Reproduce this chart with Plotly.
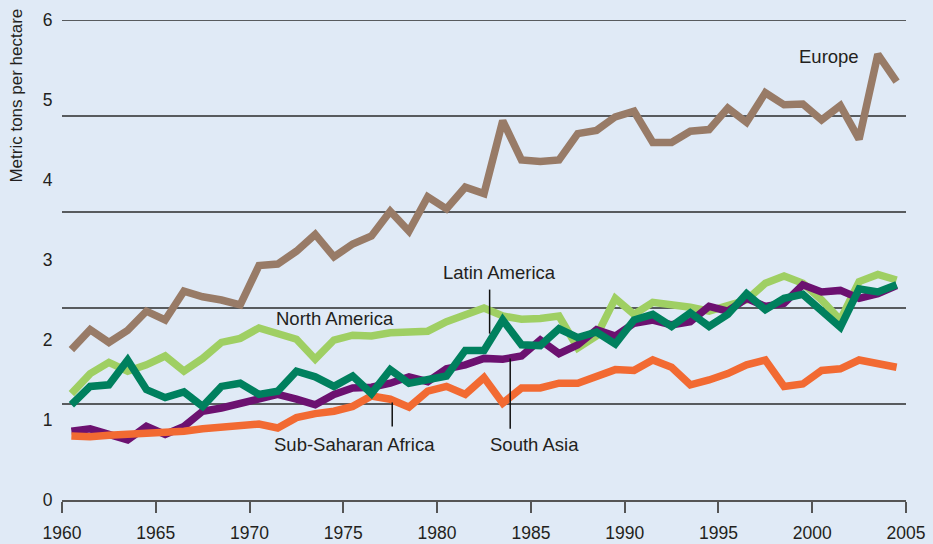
import plotly.graph_objects as go

years = [str(y) for y in range(1960, 2005)]

europe = [1.88, 2.13, 1.97, 2.12, 2.36, 2.25, 2.61, 2.54, 2.50, 2.44,
          2.93, 2.95, 3.11, 3.32, 3.04, 3.20, 3.30, 3.61, 3.36, 3.79,
          3.64, 3.91, 3.83, 4.74, 4.25, 4.23, 4.25, 4.58, 4.62, 4.79,
          4.86, 4.47, 4.47, 4.61, 4.63, 4.90, 4.72, 5.09, 4.94, 4.95,
          4.75, 4.93, 4.51, 5.57, 5.23]

north_america = [1.33, 1.58, 1.72, 1.61, 1.69, 1.80, 1.61, 1.77, 1.97, 2.02,
                 2.15, 2.07, 2.01, 1.76, 2.00, 2.06, 2.05, 2.09, 2.11, 2.11,
                 2.23, 2.32, 2.40, 2.30, 2.26, 2.27, 2.30, 1.90, 2.05, 2.52,
                 2.32, 2.47, 2.45, 2.41, 2.36, 2.44, 2.50, 2.71, 2.80, 2.71,
                 2.50, 2.25, 2.73, 2.82, 2.75]

latin_america = [1.19, 1.42, 1.44, 1.75, 1.38, 1.28, 1.35, 1.17, 1.42, 1.46,
                 1.32, 1.36, 1.61, 1.54, 1.42, 1.55, 1.33, 1.63, 1.46, 1.50,
                 1.55, 1.87, 1.87, 2.25, 1.94, 1.93, 2.14, 2.03, 2.10, 1.95,
                 2.25, 2.32, 2.17, 2.34, 2.17, 2.32, 2.58, 2.38, 2.52, 2.57,
                 2.38, 2.16, 2.64, 2.60, 2.69]

south_asia = [0.86, 0.89, 0.82, 0.75, 0.92, 0.82, 0.92, 1.11, 1.15, 1.20,
              1.25, 1.32, 1.26, 1.19, 1.32, 1.40, 1.41, 1.46, 1.54, 1.48,
              1.64, 1.69, 1.77, 1.76, 1.80, 2.00, 1.83, 1.94, 2.13, 2.05,
              2.21, 2.25, 2.19, 2.23, 2.42, 2.36, 2.52, 2.42, 2.46, 2.69,
              2.60, 2.62, 2.52, 2.58, 2.68]

ssa = [0.80, 0.79, 0.81, 0.82, 0.84, 0.85, 0.86, 0.89, 0.91, 0.91,
       0.95, 0.90, 1.03, 1.08, 1.11, 1.17, 1.30, 1.26, 1.16, 1.36,
       1.42, 1.32, 1.53, 1.21, 1.40, 1.40, 1.46, 1.46, 1.54, 1.63,
       1.62, 1.75, 1.66, 1.44, 1.50, 1.58, 1.69, 1.75, 1.42, 1.45,
       1.62, 1.64, 1.75, 1.70, 1.66]

y_ticks = [0, 1, 2, 3, 4, 5, 6]
grid_levels = [1.2, 2.4, 3.6, 4.8, 6.0]
x_ticks = [str(y) for y in range(1960, 2006, 5)]

BG = "#e0eaf6"
FONT = "Liberation Sans, Arial, Helvetica, sans-serif"
TXT = "#231f20"

series = [
    ("Europe", europe, "#987b67"),
    ("North America", north_america, "#9fcf63"),
    ("South Asia", south_asia, "#6c1170"),
    ("Sub-Saharan Africa", ssa, "#f26a32"),
    ("Latin America", latin_america, "#00805e"),
]

fig = go.Figure()
for name, vals, col in series:
    fig.add_trace(go.Scatter(
        x=years, y=vals, name=name, mode="lines",
        xperiod="M12", xperiodalignment="middle",
        line=dict(color=col, width=7.5),
    ))

for lvl in grid_levels:
    fig.add_hline(y=lvl, line=dict(color="#2b2b2b", width=1.6), layer="below")

fig.update_layout(
    width=933, height=544,
    margin=dict(l=62, r=27, t=20, b=44),
    paper_bgcolor=BG, plot_bgcolor=BG,
    showlegend=False,
    font=dict(family=FONT, color=TXT, size=17.5),
    xaxis=dict(
        type="date", range=["1960-01-01", "2005-01-01"],
        tickvals=x_ticks, ticktext=[t for t in x_ticks],
        showgrid=False, zeroline=False, automargin=False,
        showline=True, linecolor="#555555", linewidth=1.6,
        ticks="outside", ticklen=11, tickwidth=1.6, tickcolor="#555555",
        ticklabelstandoff=5,
        tickfont=dict(size=17.5, color=TXT, family=FONT),
    ),
    yaxis=dict(
        range=[0, 6], tickvals=y_ticks, automargin=False,
        showgrid=False, zeroline=False, showline=False,
        ticks="outside", ticklen=5, tickcolor="rgba(0,0,0,0)",
        tickfont=dict(size=17.5, color=TXT, family=FONT),
    ),
)

ann = dict(showarrow=False, font=dict(family=FONT, size=18.5, color=TXT))
fig.add_annotation(text="Europe", x="2000-12-01", y=5.55, **ann)
fig.add_annotation(text="North America", x="1974-07-15", y=2.27, **ann)
fig.add_annotation(text="Latin America", x="1983-05-01", y=2.85, **ann)
fig.add_annotation(text="South Asia", x="1985-03-15", y=0.69, **ann)
fig.add_annotation(text="Sub-Saharan Africa", x="1975-08-01", y=0.69, **ann)

fig.add_annotation(text="Metric tons per hectare", xref="paper", yref="paper",
                   x=-45 / 844, y=1.028, xanchor="center", yanchor="top",
                   textangle=-90, showarrow=False,
                   font=dict(family=FONT, size=17, color=TXT))

leader = dict(type="line", line=dict(color="#111111", width=1.5))
fig.add_shape(x0="1982-10-20", x1="1982-10-20", y0=2.63, y1=2.08, **leader)
fig.add_shape(x0="1983-11-25", x1="1983-11-25", y0=1.77, y1=0.89, **leader)
fig.add_shape(x0="1977-08-10", x1="1977-08-10", y0=1.22, y1=0.92, **leader)

fig.write_html(
    "out.html",
    config={"displayModeBar": False},
    post_script="document.body.style.margin='0';document.body.style.overflow='hidden';",
)
